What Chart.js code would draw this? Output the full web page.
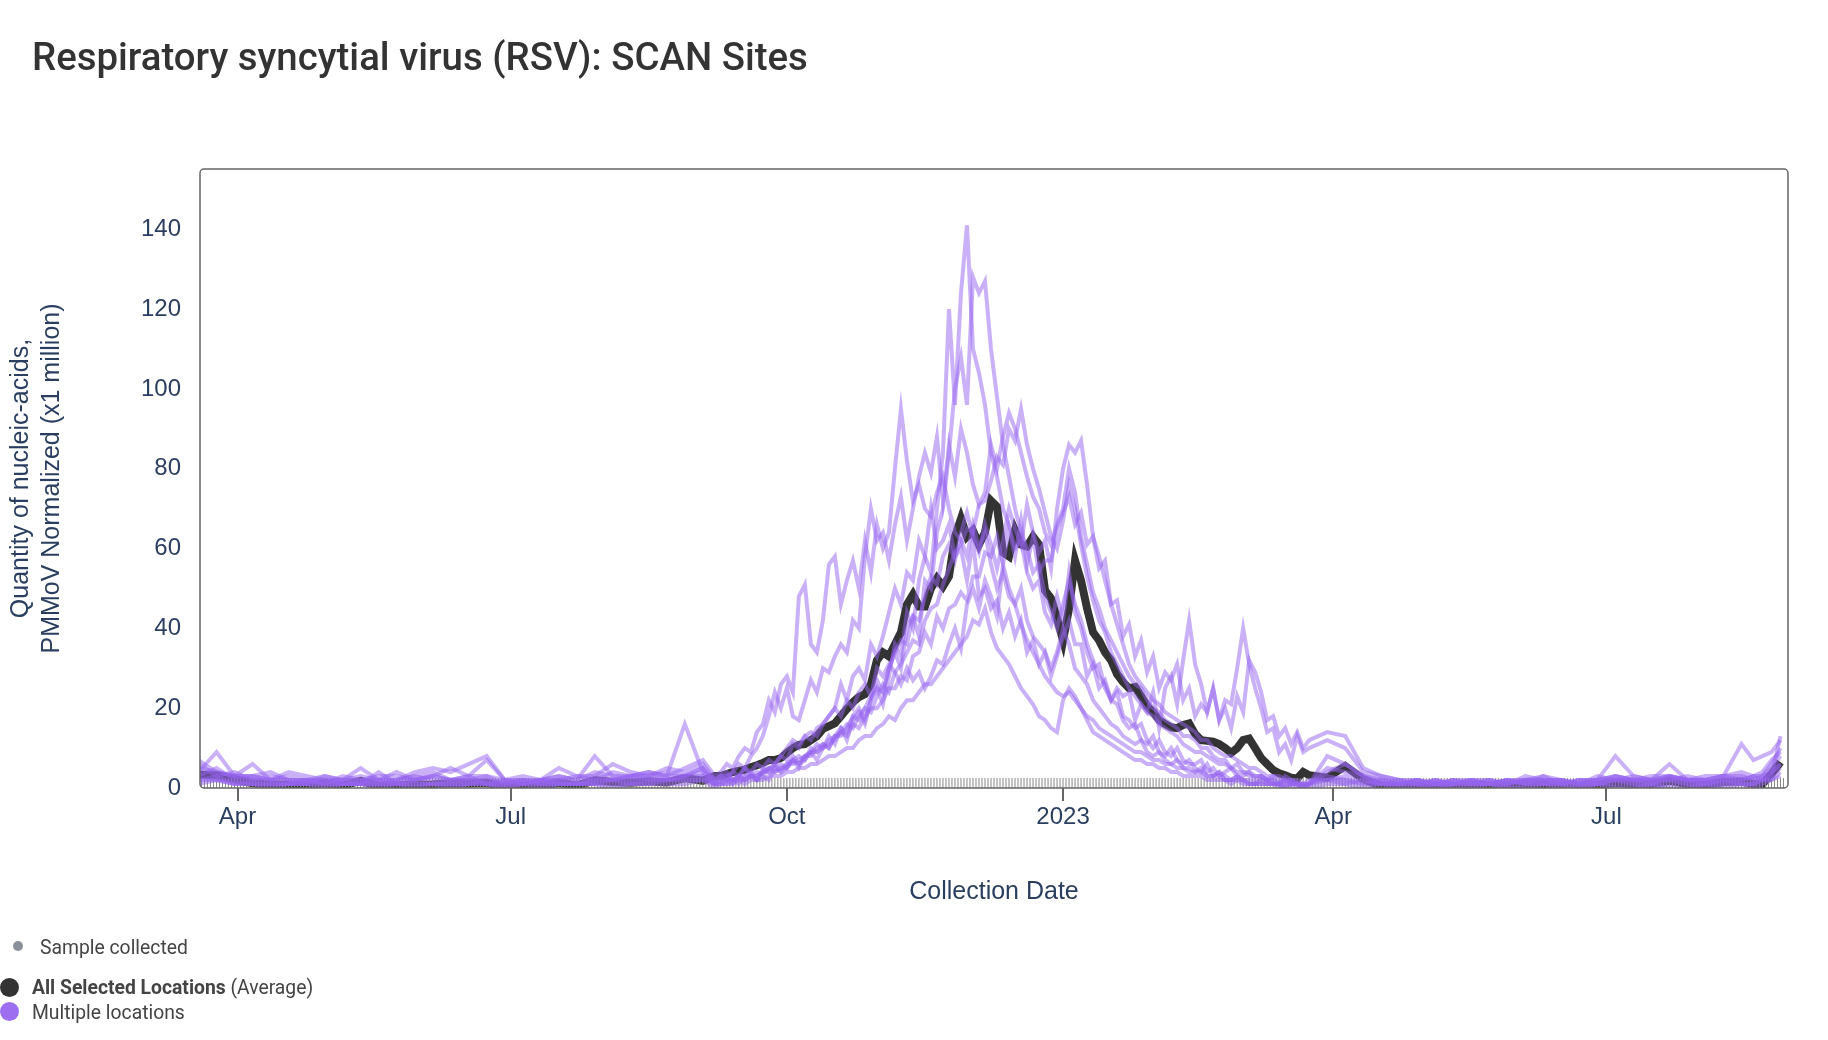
<!DOCTYPE html>
<html>
<head>
<meta charset="utf-8">
<script src="https://cdn.jsdelivr.net/npm/chart.js@4.4.1/dist/chart.umd.min.js"></script>
<style>
  html, body { margin: 0; padding: 0; background: #fff; }
  body { width: 1828px; height: 1040px; position: relative; overflow: hidden; }
  #chart { position: absolute; left: 0; top: 0; }
  #title { position: absolute; left: 32px; top: 38px; font: 500 38.4px/1 Roboto, sans-serif; color: #333; white-space: nowrap; }
  .leg { position: absolute; font: 400 21px/1 Roboto, sans-serif; color: #444; white-space: nowrap;
         transform-origin: left center; transform: scaleX(0.92); }
  .leg b { font-weight: 700; }
  .dot { position: absolute; border-radius: 50%; }
</style>
</head>
<body>
<canvas id="chart" width="1828" height="1040"></canvas>
<div id="title">Respiratory syncytial virus (RSV): SCAN Sites</div>
<div class="dot" style="left:13px;top:941px;width:10px;height:10px;background:#8a9099"></div>
<div class="leg" style="left:40px;top:937px">Sample collected</div>
<div class="dot" style="left:0px;top:978px;width:19px;height:19px;background:#333"></div>
<div class="leg" style="left:32px;top:977px"><b>All Selected Locations</b> (Average)</div>
<div class="dot" style="left:0px;top:1002px;width:19px;height:19px;background:#9d6ff0"></div>
<div class="leg" style="left:32px;top:1002px">Multiple locations</div>
<script>
// days since 2022-03-19
const siteDays = [
  0,6,12,18,24,30,36,42,48,54,60,66,72,78,84,90,96,102,108,114,120,126,132,138,144,150,156,162,168,
  172,174,176,178,180,182,184,186,188,190,
  192,194,196,198,200,202,204,206,208,210,
  212,214,216,218,220,222,224,226,228,230,
  232,234,236,238,240,242,244,246,248,250,
  252,254,256,258,260,262,264,266,268,270,
  272,274,276,278,280,282,284,286,288,290,
  292,294,296,298,300,302,304,306,308,310,
  312,314,316,318,320,322,324,326,328,330,
  332,334,336,338,340,342,344,346,348,350,
  352,354,356,358,360,362,364,366,368,370,
  376,382,388,394,400,406,412,418,424,430,436,442,448,454,460,466,472,478,484,490,496,502,508,514,518,521,524,527
];

const avgValues = [
  3.3,3.2,2.2,1.2,0.9,0.8,0.5,1.2,0.6,1.8,0.5,0.6,0.8,0.9,1.2,1.1,1.3,0.3,0.5,0.5,1.3,0.6,1.9,1.5,1.3,1.7,1.4,2.5,1.8,
  3.0,3.0,3.5,4.0,4.3,4.6,5.2,5.7,6.3,7.0,
  7.0,7.5,8.8,10.0,10.8,11.0,12.0,13.0,14.8,15.5,
  16.2,18.0,19.8,21.5,22.8,23.5,26.0,32.0,34.0,33.0,
  36.0,39.0,46.0,48.5,45.5,45.5,50.0,52.5,50.5,53.0,
  63.0,67.5,63.0,64.5,61.0,64.0,72.0,70.5,59.0,58.0,
  64.5,61.0,60.5,63.0,61.0,49.5,47.5,42.5,37.0,45.0,
  57.0,52.0,45.0,39.0,37.0,34.0,32.0,28.5,26.5,25.0,
  25.3,23.0,20.5,19.0,17.0,16.0,15.2,15.0,15.8,16.2,
  13.5,12.0,11.8,11.6,11.0,10.0,8.8,10.0,12.0,12.4,
  10.0,7.5,6.0,4.5,3.7,3.2,2.6,2.4,4.0,3.2,
  2.6,5.5,2.2,0.5,0.4,0.5,0.3,0.3,0.8,0.6,0.5,1.0,1.0,0.6,0.5,0.8,1.3,1.0,1.0,1.8,1.0,0.8,1.5,1.6,1.0,1.0,3.5,6.5
];

const site1 = [
  5,4,3,6,2,3,2,1,2,3,2,1,2,3,2,3,1,2,1,2,3,2,4,3,2,3,4,3,5,
  2,3,4,2,3,5,3,2,5,4,
  6,4,5,8,6,7,10,9,11,10,
  13,15,12,17,19,16,22,25,21,28,
  36,33,44,40,52,58,54,70,84,120,
  96,124,141,110,104,96,84,78,70,66,
  60,62,54,50,52,44,41,48,42,54,
  44,40,34,30,31,25,22,24,18,17,
  15,16,12,10,12,9,8,10,7,6,
  6,7,4,5,3,4,5,3,3,4,
  2,3,2,2,1,3,2,1,1,2,
  2,1,2,1,1,2,1,1,2,1,1,2,1,1,2,1,3,2,1,2,2,1,2,3,2,3,5,8
];
const site2 = [
  4,9,3,3,2,2,1,3,2,5,2,2,3,2,1,2,3,1,2,1,2,1,3,2,3,4,3,16,4,
  1,2,3,2,1,3,4,2,3,2,
  5,4,6,7,5,8,9,7,10,13,
  11,15,14,18,20,17,22,27,24,30,
  34,30,40,43,38,52,50,64,70,84,
  100,108,96,128,124,127,110,98,86,78,
  70,64,60,54,56,48,44,40,46,52,
  46,42,36,32,28,26,22,21,17,15,
  16,12,11,13,9,8,10,7,6,7,
  5,4,6,3,4,3,2,3,2,2,
  1,2,2,1,1,2,1,1,0,1,
  3,2,1,2,1,1,2,1,1,2,1,2,2,1,1,2,8,3,2,2,3,2,1,2,3,2,4,6
];
const site3 = [
  6,3,4,2,3,2,2,1,3,2,1,2,4,5,4,6,8,2,1,2,3,2,8,3,3,4,3,5,7,
  3,4,6,5,8,10,9,14,16,22,
  19,26,28,24,48,51,36,34,42,56,
  58,46,52,57,50,62,54,66,60,64,
  80,95,82,72,76,70,68,74,78,70,
  64,62,58,66,60,64,56,50,54,48,
  46,50,42,38,36,34,30,34,40,36,
  30,28,26,22,20,18,16,15,13,12,
  11,12,9,8,9,7,6,7,5,5,
  4,5,3,3,4,2,2,3,2,1,
  1,2,1,1,1,0,1,1,0,1,
  5,4,3,1,2,1,1,2,1,1,2,1,3,2,1,2,2,3,2,6,2,2,3,3,2,3,6,10
];
const site4 = [
  3,5,2,3,2,4,3,2,1,2,3,3,2,3,5,3,3,2,3,2,5,3,3,6,4,3,5,4,6,
  2,3,3,4,6,5,8,10,13,18,
  24,20,25,18,17,22,27,24,30,29,
  33,36,34,42,40,58,70,62,64,57,
  66,73,62,70,78,84,79,88,72,86,
  78,90,84,76,71,74,86,80,88,94,
  90,84,78,73,70,64,61,66,70,80,
  74,63,56,49,45,40,37,34,31,28,
  26,25,22,20,19,17,16,15,13,13,
  12,10,10,8,7,7,5,6,4,4,
  3,3,2,3,2,1,2,1,1,1,
  8,6,3,2,1,2,1,1,2,2,1,3,2,2,1,3,2,2,3,3,2,3,3,11,7,8,9,12
];
const site5 = [
  2,3,1,2,1,1,1,2,1,1,1,1,2,1,1,1,2,1,1,2,1,1,2,2,2,2,2,3,3,
  1,1,2,2,3,2,3,4,3,5,
  5,6,5,7,8,7,9,11,10,12,
  13,14,16,15,18,20,19,23,26,24,
  29,31,34,37,36,42,45,46,51,55,
  59,61,65,64,71,72,77,83,81,90,
  87,95,86,80,75,69,63,60,67,76,
  70,61,53,47,42,39,34,31,28,25,
  23,21,19,18,16,15,14,13,11,10,
  9,9,8,7,6,6,5,4,4,3,
  3,3,2,2,1,2,1,1,1,1,
  2,3,2,1,1,1,2,1,1,1,2,1,1,2,1,1,2,1,1,2,1,1,2,1,1,2,3,5
];
const site6 = [
  4,3,3,2,2,1,2,3,2,1,2,2,3,4,2,3,7,2,2,1,2,1,2,2,3,3,2,3,5,
  1,2,2,1,3,2,3,3,4,4,
  4,5,5,7,6,8,8,10,11,10,
  13,13,15,18,17,20,23,25,24,30,
  34,37,36,43,42,48,53,51,58,61,
  57,64,69,63,59,66,61,55,62,70,
  65,61,71,64,59,62,55,70,80,86,
  84,87,76,63,58,52,46,41,36,31,
  28,26,24,22,21,19,18,17,16,15,
  14,12,12,10,9,8,8,7,6,5,
  5,4,3,3,3,2,2,2,1,1,
  4,6,3,2,1,2,1,2,1,2,1,2,3,1,2,2,3,2,2,3,2,2,3,4,3,4,7,9
];
const site7 = [
  1,2,1,1,0,1,1,0,1,1,0,1,1,1,0,1,1,0,1,0,1,1,1,0,1,1,1,1,2,
  0,1,1,1,2,1,2,2,2,3,
  3,3,4,4,5,5,6,6,7,8,
  8,9,10,10,12,13,13,15,16,18,
  17,20,22,22,24,26,26,28,30,32,
  34,36,38,42,41,45,39,35,33,31,
  28,25,23,21,18,17,15,14,22,25,
  23,20,17,14,13,12,11,10,9,8,
  7,7,6,6,5,5,4,4,3,3,
  3,3,2,2,2,2,1,2,1,1,
  1,1,1,1,0,1,1,0,1,0,
  1,1,0,1,0,0,1,0,0,1,0,0,1,0,0,1,0,0,1,0,0,1,0,1,0,1,2,3
];
const site8 = [
  3,2,2,1,1,1,2,1,1,1,4,1,1,1,2,2,1,1,2,1,1,1,1,2,1,2,2,2,3,
  1,1,1,2,2,2,3,3,4,5,
  6,8,10,12,11,13,14,13,16,18,
  20,18,22,20,24,26,23,30,28,31,
  29,26,30,27,29,25,28,32,31,36,
  40,35,46,50,45,52,48,43,56,50,
  46,41,37,34,31,28,26,24,23,24,
  22,20,18,17,15,14,13,12,11,10,
  9,9,8,7,7,6,6,5,5,4,
  4,4,3,3,3,2,2,2,2,1,
  1,1,1,1,1,0,1,1,0,1,
  2,2,1,1,1,1,0,1,1,1,0,1,1,1,0,1,1,1,0,1,1,0,1,1,1,2,2,4
];
const site9 = [
  7,4,3,3,4,2,2,2,2,2,2,4,2,3,2,2,2,1,2,2,2,3,2,4,3,2,3,3,4,
  2,3,2,4,3,5,4,6,5,7,
  6,8,7,11,10,13,12,15,16,18,
  20,26,22,28,30,27,36,33,38,44,
  50,46,54,52,62,58,70,60,62,66,
  58,60,52,62,48,50,45,47,40,44,
  38,42,34,37,31,34,28,33,38,42,
  36,36,28,31,25,27,22,25,23,24,
  17,21,19,24,15,25,28,21,32,42,
  31,26,19,25,17,22,21,30,40,31,
  25,20,14,15,9,11,7,13,9,10,
  12,10,4,3,2,2,1,2,2,1,2,2,2,1,2,2,3,2,2,3,2,2,3,2,3,3,4,6
];
const site10 = [
  2,2,1,1,1,1,1,1,1,1,1,1,0,1,1,1,1,0,1,1,1,1,1,1,1,1,2,2,2,
  1,2,2,2,3,3,3,2,4,5,
  4,5,6,6,7,8,9,9,10,11,
  12,14,13,16,15,18,20,20,22,25,
  25,28,27,33,34,39,36,43,40,45,
  46,49,47,53,53,59,58,63,56,65,
  58,67,56,63,54,57,57,65,69,73,
  66,69,61,63,55,57,46,47,38,41,
  33,37,29,33,25,29,27,31,22,25,
  18,21,19,25,17,20,15,23,19,32,
  29,24,17,18,13,15,11,14,10,12,
  14,13,5,3,2,1,2,1,2,1,2,1,2,2,1,1,2,2,1,3,2,1,2,2,1,2,3,13
];

// one sample per day
const sampleDays = [
  0,1,2,3,4,5,6,7,8,9,10,11,12,13,14,15,16,17,18,19,20,21,22,23,24,25,26,27,28,29,
  30,31,32,33,34,35,36,37,38,39,40,41,42,43,44,45,46,47,48,49,50,51,52,53,54,55,56,57,58,59,
  60,61,62,63,64,65,66,67,68,69,70,71,72,73,74,75,76,77,78,79,80,81,82,83,84,85,86,87,88,89,
  90,91,92,93,94,95,96,97,98,99,100,101,102,103,104,105,106,107,108,109,110,111,112,113,114,115,116,117,118,119,
  120,121,122,123,124,125,126,127,128,129,130,131,132,133,134,135,136,137,138,139,140,141,142,143,144,145,146,147,148,149,
  150,151,152,153,154,155,156,157,158,159,160,161,162,163,164,165,166,167,168,169,170,171,172,173,174,175,176,177,178,179,
  180,181,182,183,184,185,186,187,188,189,190,191,192,193,194,195,196,197,198,199,200,201,202,203,204,205,206,207,208,209,
  210,211,212,213,214,215,216,217,218,219,220,221,222,223,224,225,226,227,228,229,230,231,232,233,234,235,236,237,238,239,
  240,241,242,243,244,245,246,247,248,249,250,251,252,253,254,255,256,257,258,259,260,261,262,263,264,265,266,267,268,269,
  270,271,272,273,274,275,276,277,278,279,280,281,282,283,284,285,286,287,288,289,290,291,292,293,294,295,296,297,298,299,
  300,301,302,303,304,305,306,307,308,309,310,311,312,313,314,315,316,317,318,319,320,321,322,323,324,325,326,327,328,329,
  330,331,332,333,334,335,336,337,338,339,340,341,342,343,344,345,346,347,348,349,350,351,352,353,354,355,356,357,358,359,
  360,361,362,363,364,365,366,367,368,369,370,371,372,373,374,375,376,377,378,379,380,381,382,383,384,385,386,387,388,389,
  390,391,392,393,394,395,396,397,398,399,400,401,402,403,404,405,406,407,408,409,410,411,412,413,414,415,416,417,418,419,
  420,421,422,423,424,425,426,427,428,429,430,431,432,433,434,435,436,437,438,439,440,441,442,443,444,445,446,447,448,449,
  450,451,452,453,454,455,456,457,458,459,460,461,462,463,464,465,466,467,468,469,470,471,472,473,474,475,476,477,478,479,
  480,481,482,483,484,485,486,487,488,489,490,491,492,493,494,495,496,497,498,499,500,501,502,503,504,505,506,507,508,509,
  510,511,512,513,514,515,516,517,518,519,520,521,522,523,524,525,526,527,528
];

const tickDays = [13, 104, 196, 288, 378, 469];
const tickLabels = ['Apr', 'Jul', 'Oct', '2023', 'Apr', 'Jul'];
const yTicks = [0, 20, 40, 60, 80, 100, 120, 140];

const sites = [site1, site2, site3, site4, site5, site6, site7, site8, site9, site10];
const axisFont = '"Liberation Sans", Arial, sans-serif';
const axisColor = '#2a3f5f';

const pts = vals => vals.map((v, i) => ({ x: siteDays[i], y: v }));

const datasets = sites.map((s, i) => ({
  label: 'site ' + (i + 1),
  data: pts(s),
  borderColor: 'rgba(150, 100, 240, 0.5)',
  borderWidth: 4,
  pointRadius: 0,
  tension: 0
}));

datasets.push({
  label: 'Sample collected',
  data: sampleDays.map(d => ({ x: d, y: 1.25 })),
  showLine: false,
  pointStyle: 'line',
  rotation: 90,
  pointRadius: 5,
  pointBorderColor: '#888',
  pointBorderWidth: 1
});

datasets.push({
  label: 'All Selected Locations (Average)',
  data: pts(avgValues),
  borderColor: '#333',
  borderWidth: 8,
  pointRadius: 0,
  tension: 0
});

const boxPlugin = {
  id: 'box',
  afterDatasetsDraw(chart) {
    const { ctx, chartArea: a } = chart;
    ctx.save();
    ctx.strokeStyle = '#666';
    ctx.lineWidth = 1.5;
    ctx.beginPath();
    ctx.roundRect(a.left, a.top, a.right - a.left, a.bottom - a.top, 4);
    ctx.stroke();
    ctx.restore();
  }
};

new Chart(document.getElementById('chart'), {
  type: 'line',
  data: { datasets },
  plugins: [boxPlugin],
  options: {
    responsive: false,
    animation: false,
    devicePixelRatio: 1,
    events: [],
    layout: { padding: { top: 169, right: 40, bottom: 0, left: 0 } },
    plugins: { legend: { display: false }, tooltip: { enabled: false } },
    scales: {
      x: {
        type: 'linear',
        min: 0.5,
        max: 529.5,
        afterBuildTicks: s => { s.ticks = tickDays.map(v => ({ value: v })); },
        afterFit: s => { s.height = 252; },
        grid: { display: true, drawOnChartArea: false, drawTicks: true, tickLength: 13, color: '#666', lineWidth: 2 },
        border: { display: false },
        ticks: {
          autoSkip: false, maxRotation: 0, padding: 2,
          color: axisColor, font: { family: axisFont, size: 24 },
          callback: v => tickLabels[tickDays.indexOf(v)]
        },
        title: {
          display: true, text: 'Collection Date', color: axisColor,
          font: { family: axisFont, size: 25 }, padding: { top: 0, bottom: 133 }
        }
      },
      y: {
        min: 0,
        max: 155.1,
        afterBuildTicks: s => { s.ticks = yTicks.map(v => ({ value: v })); },
        afterFit: s => { s.width = 200; },
        grid: { display: false },
        border: { display: false },
        ticks: { padding: 11, color: axisColor, font: { family: axisFont, size: 24 } },
        title: {
          display: true,
          text: ['Quantity of nucleic-acids,', 'PMMoV Normalized (x1 million)'],
          color: axisColor,
          font: { family: axisFont, size: 25, lineHeight: 1.26 },
          padding: { top: 5, bottom: 0 }
        }
      }
    }
  }
});
</script>
</body>
</html>
